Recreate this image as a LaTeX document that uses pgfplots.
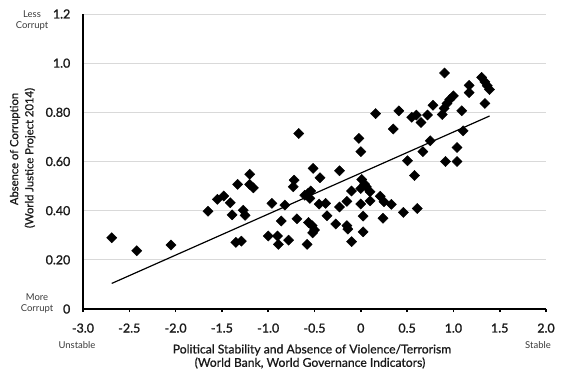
\documentclass[border=0pt]{standalone}
\usepackage{pgfplots}
\pgfplotsset{compat=1.18}
\usepackage{fontspec}
\setmainfont{Lato}
\newfontfamily\medfont{Lato}[FakeBold=0.8]
\newfontfamily\tickfont{Lato}[FakeBold=1.4]
\definecolor{gridc}{HTML}{D9D9D9}
\definecolor{txt}{HTML}{1A1A1A}
\definecolor{soft}{HTML}{3A3A3A}
\begin{document}
\begin{tikzpicture}[x=1bp,y=1bp]
\useasboundingbox (-83,-77) rectangle (489,309);
\begin{axis}[
  at={(0,0)}, anchor=south west,
  scale only axis, width=463bp, height=295bp,
  xmin=-3, xmax=2, ymin=0, ymax=1.2,
  axis x line=bottom, axis y line=left,
  axis line style={-, line width=1.6bp, black},
  xtick={-3,-2.5,-2,-1.5,-1,-0.5,0,0.5,1,1.5,2},
  xticklabels={-3.0,-2.5,-2.0,-1.5,-1.0,-0.5,0,0.5,1.0,1.5,2.0},
  ytick={0,0.2,0.4,0.6,0.8,1.0,1.2},
  yticklabels={0,0.20,0.40,0.60,0.80,1.0,1.2},
  /pgf/number format/assume math mode=true,
  xtick align=outside,
  major tick length=3bp,
  xtick style={line width=1.6bp, black},
  ytick style={draw=none},
  ymajorgrids, grid style={gridc, line width=0.8bp},
  tick label style={font=\tickfont\fontsize{12.5}{14}\selectfont, text=txt},
  xticklabel style={yshift=-8bp},
  yticklabel style={inner sep=0pt, xshift=-11bp},
  clip=false,
]
\addplot[only marks, mark=square*, mark size=3.6bp, mark options={rotate=45, fill=black, draw=black}] coordinates {
(-2.69,0.29) (-2.42,0.237) (-2.05,0.26) (-1.65,0.398) (-1.55,0.446) (-1.48,0.46)
(-1.41,0.432) (-1.39,0.383) (-1.33,0.507) (-1.20,0.548) (-1.20,0.507) (-1.16,0.493)
(-1.27,0.402) (-1.25,0.381) (-1.35,0.271) (-1.29,0.276) (-0.96,0.43) (-0.82,0.423)
(-0.86,0.358) (-1.00,0.297) (-0.90,0.297) (-0.89,0.263) (-0.78,0.28) (-0.72,0.524)
(-0.73,0.497) (-0.69,0.367) (-0.67,0.714) (-0.605,0.463) (-0.54,0.48) (-0.55,0.45)
(-0.57,0.47) (-0.515,0.572) (-0.44,0.534) (-0.565,0.352) (-0.525,0.339) (-0.50,0.321)
(-0.52,0.31) (-0.58,0.263) (-0.45,0.427) (-0.38,0.43) (-0.365,0.379) (-0.27,0.346)
(-0.23,0.415) (-0.23,0.562) (-0.15,0.438) (-0.15,0.339) (-0.14,0.325) (-0.10,0.274)
(-0.10,0.48) (-0.02,0.694) (0.0,0.64) (0.01,0.527) (0.0,0.49) (0.04,0.508)
(0.06,0.497) (0.10,0.477) (0.0,0.427) (0.025,0.378) (0.025,0.314) (0.10,0.44)
(0.16,0.795) (0.21,0.459) (0.25,0.436) (0.33,0.426) (0.24,0.369) (0.35,0.732)
(0.41,0.806) (0.46,0.393) (0.505,0.603) (0.58,0.543) (0.61,0.409) (0.55,0.78)
(0.60,0.789) (0.65,0.759) (0.67,0.64) (0.72,0.789) (0.75,0.684) (0.78,0.829)
(0.88,0.791) (0.90,0.816) (0.93,0.836) (0.96,0.852) (1.0,0.867) (0.905,0.96)
(0.915,0.60) (1.04,0.60) (1.04,0.657) (1.09,0.806) (1.105,0.725) (1.17,0.91)
(1.17,0.88) (1.305,0.942) (1.34,0.924) (1.365,0.908) (1.39,0.893) (1.34,0.836)
};
\addplot[black, line width=1.2bp, no marks] coordinates {(-2.69,0.104) (1.39,0.785)};
\end{axis}
% side annotations
\node[align=center, font=\fontsize{9.5}{11}\selectfont, text=soft, inner sep=0pt] at (-51,288.5) {Less\\Corrupt};
\node[align=center, font=\fontsize{9.5}{11}\selectfont, text=soft, inner sep=0pt] at (-46,5.3) {More\\Corrupt};
\node[font=\fontsize{9.5}{11}\selectfont, text=soft, inner sep=0pt] at (-6,-36) {Unstable};
\node[font=\fontsize{9.5}{11}\selectfont, text=soft, inner sep=0pt] at (455,-36) {Stable};
\node[font=\medfont\fontsize{12.2}{13}\selectfont, text=txt, inner sep=0pt] at (229,-41) {Political Stability and Absence of Violence/Terrorism};
\node[font=\medfont\fontsize{12.2}{13}\selectfont, text=txt, inner sep=0pt] at (227,-54) {(World Bank, World Governance Indicators)};
\node[rotate=90, font=\medfont\fontsize{11.3}{13}\selectfont, text=txt, inner sep=0pt] at (-68,160) {Absence of Corruption};
\node[rotate=90, font=\medfont\fontsize{11.3}{13}\selectfont, text=txt, inner sep=0pt] at (-53,151) {(World Justice Project 2014)};
\end{tikzpicture}
\end{document}
